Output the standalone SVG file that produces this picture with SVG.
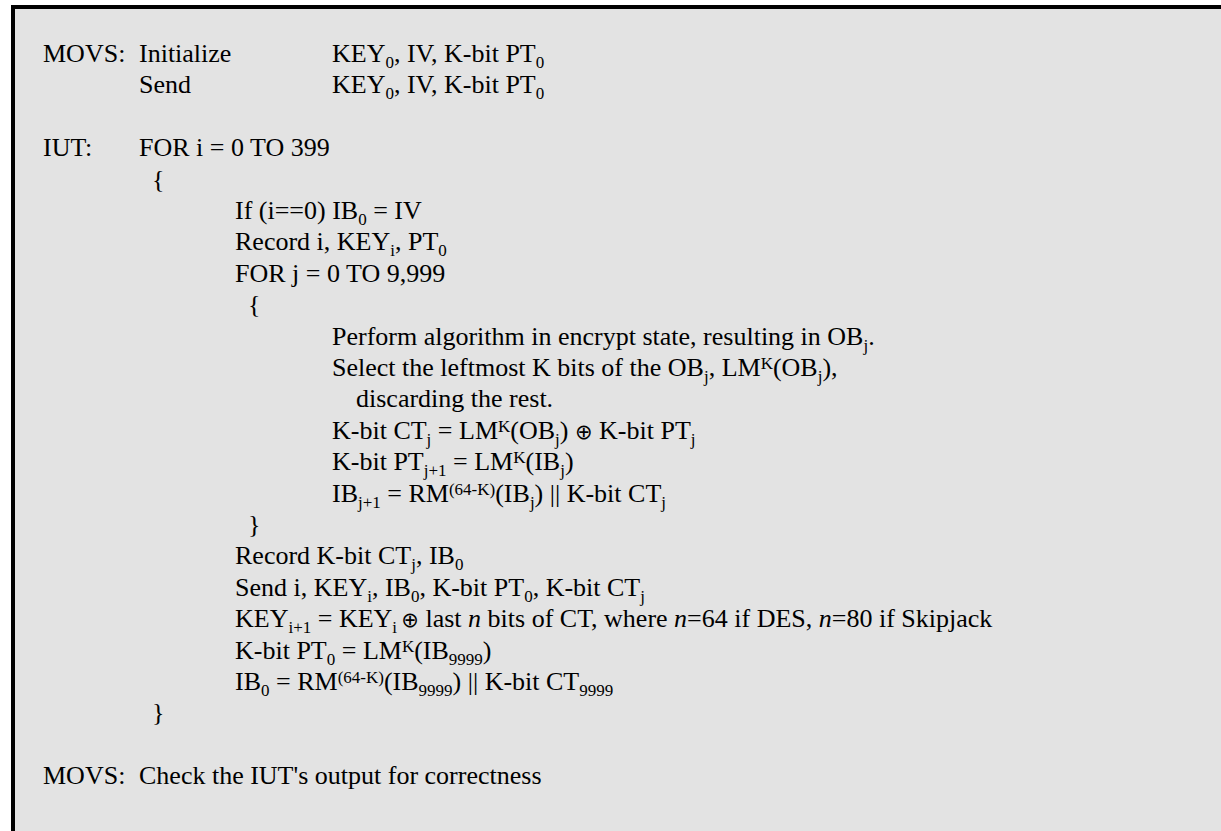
<svg xmlns="http://www.w3.org/2000/svg" width="1221" height="831" viewBox="0 0 1221 831">
<style>
.t{font-family:"Liberation Serif","Times New Roman",serif;font-size:26px;fill:#000}
.s{font-size:17px}
.i{font-style:italic}
.o{font-family:"DejaVu Sans",sans-serif;font-size:21px}
</style>
<rect x="0" y="0" width="1221" height="831" fill="#ffffff"/>
<rect x="11" y="5" width="1210" height="826" fill="#000000"/>
<rect x="15" y="9" width="1206" height="822" fill="#e3e3e3"/>
<g id="text">
<text class="t" x="43" y="62">MOVS:</text>
<text class="t" x="139" y="62">Initialize</text>
<text class="t" x="332" y="62">KEY<tspan class="s" dy="6">0</tspan><tspan dy="-6">, IV, K-bit PT</tspan><tspan class="s" dy="6">0</tspan></text>
<text class="t" x="139" y="93.4">Send</text>
<text class="t" x="332" y="93.4">KEY<tspan class="s" dy="6">0</tspan><tspan dy="-6">, IV, K-bit PT</tspan><tspan class="s" dy="6">0</tspan></text>

<text class="t" x="43" y="156.2">IUT:</text>
<text class="t" x="139" y="156.2">FOR i = 0 TO 399</text>
<text class="t" x="152" y="187.6">{</text>
<text class="t" x="235" y="219">If (i==0) IB<tspan class="s" dy="6">0</tspan><tspan dy="-6"> = IV</tspan></text>
<text class="t" x="235" y="250.4">Record i, KEY<tspan class="s" dy="6">i</tspan><tspan dy="-6">, PT</tspan><tspan class="s" dy="6">0</tspan></text>
<text class="t" x="235" y="281.8">FOR j = 0 TO 9,999</text>
<text class="t" x="248" y="313.2">{</text>
<text class="t" x="332" y="344.6">Perform algorithm in encrypt state, resulting in OB<tspan class="s" dy="6">j</tspan><tspan dy="-6">.</tspan></text>
<text class="t" x="332" y="376">Select the leftmost K bits of the OB<tspan class="s" dy="6">j</tspan><tspan dy="-6">, LM</tspan><tspan class="s" dy="-7">K</tspan><tspan dy="7">(OB</tspan><tspan class="s" dy="6">j</tspan><tspan dy="-6">),</tspan></text>
<text class="t" x="356" y="407.4">discarding the rest.</text>
<text class="t" x="332" y="438.8">K-bit CT<tspan class="s" dy="6">j</tspan><tspan dy="-6"> = LM</tspan><tspan class="s" dy="-7">K</tspan><tspan dy="7">(OB</tspan><tspan class="s" dy="6">j</tspan><tspan dy="-6">) </tspan><tspan class="o">⊕</tspan><tspan> K-bit PT</tspan><tspan class="s" dy="6">j</tspan></text>
<text class="t" x="332" y="470.2">K-bit PT<tspan class="s" dy="6">j+1</tspan><tspan dy="-6"> = LM</tspan><tspan class="s" dy="-7">K</tspan><tspan dy="7">(IB</tspan><tspan class="s" dy="6">j</tspan><tspan dy="-6">)</tspan></text>
<text class="t" x="332" y="501.6">IB<tspan class="s" dy="6">j+1</tspan><tspan dy="-6"> = RM</tspan><tspan class="s" dy="-7">(64-K)</tspan><tspan dy="7">(IB</tspan><tspan class="s" dy="6">j</tspan><tspan dy="-6">) || K-bit CT</tspan><tspan class="s" dy="6">j</tspan></text>
<text class="t" x="248" y="533">}</text>
<text class="t" x="235" y="564.4">Record K-bit CT<tspan class="s" dy="6">j</tspan><tspan dy="-6">, IB</tspan><tspan class="s" dy="6">0</tspan></text>
<text class="t" x="235" y="595.8">Send i, KEY<tspan class="s" dy="6">i</tspan><tspan dy="-6">, IB</tspan><tspan class="s" dy="6">0</tspan><tspan dy="-6">, K-bit PT</tspan><tspan class="s" dy="6">0</tspan><tspan dy="-6">, K-bit CT</tspan><tspan class="s" dy="6">j</tspan></text>
<text class="t" x="235" y="627.2">KEY<tspan class="s" dy="6">i+1</tspan><tspan dy="-6"> = KEY</tspan><tspan class="s" dy="6">i </tspan><tspan class="o" dy="-6">⊕</tspan><tspan> last </tspan><tspan class="i">n</tspan><tspan> bits of CT, where </tspan><tspan class="i">n</tspan><tspan>=64 if DES, </tspan><tspan class="i">n</tspan><tspan>=80 if Skipjack</tspan></text>
<text class="t" x="235" y="658.6">K-bit PT<tspan class="s" dy="6">0</tspan><tspan dy="-6"> = LM</tspan><tspan class="s" dy="-7">K</tspan><tspan dy="7">(IB</tspan><tspan class="s" dy="6">9999</tspan><tspan dy="-6">)</tspan></text>
<text class="t" x="235" y="690">IB<tspan class="s" dy="6">0</tspan><tspan dy="-6"> = RM</tspan><tspan class="s" dy="-7">(64-K)</tspan><tspan dy="7">(IB</tspan><tspan class="s" dy="6">9999</tspan><tspan dy="-6">) || K-bit CT</tspan><tspan class="s" dy="6">9999</tspan></text>
<text class="t" x="152" y="721.4">}</text>

<text class="t" x="43" y="784.2">MOVS:</text>
<text class="t" x="139" y="784.2">Check the IUT's output for correctness</text>
</g>
</svg>
